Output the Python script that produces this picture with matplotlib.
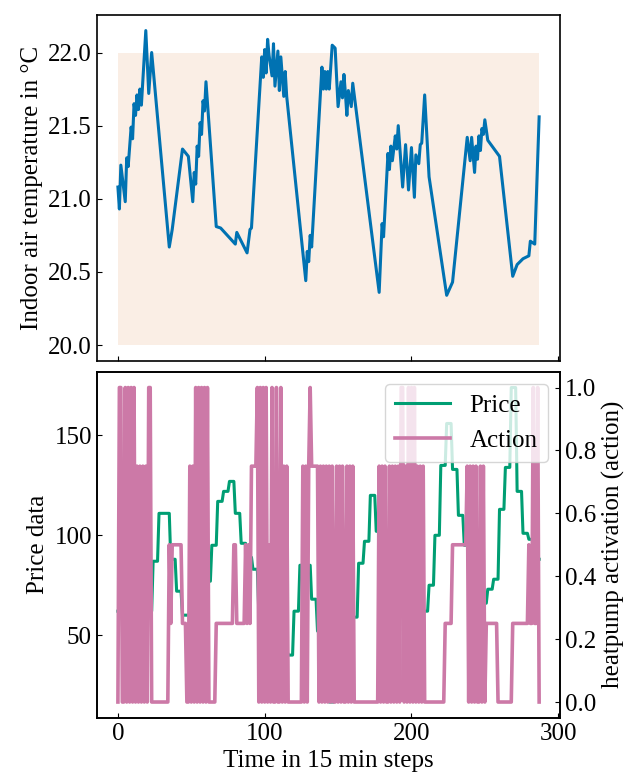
import numpy as np
import matplotlib.pyplot as plt
from matplotlib.ticker import MultipleLocator

plt.rcParams['font.family'] = ['Liberation Serif', 'DejaVu Serif']
plt.rcParams['mathtext.fontset'] = 'stix'
plt.rcParams['font.size'] = 18
plt.rcParams['xtick.direction'] = 'in'
plt.rcParams['ytick.direction'] = 'in'

# indoor temperature, vertices of the trajectory (step, degC)
temp_steps = [0, 1, 2, 5, 6, 7, 9, 10, 11, 12, 13, 14, 15, 16, 19, 21, 23, 35, 37,
              44, 48, 51, 52, 53, 54, 55, 56, 57, 58, 59, 60, 67, 70, 80, 81, 88,
              90, 91, 98, 99, 100, 101, 102, 103, 105, 106, 107, 109, 110, 111,
              113, 114, 115, 128, 129, 130, 131, 132, 139, 140, 141, 142, 143,
              144, 146, 148, 150, 152, 153, 154, 155, 156, 157, 159, 160, 178,
              180, 181, 184, 185, 186, 187, 189, 190, 191, 194, 196, 198, 200,
              202, 203, 205, 206, 207, 209, 212, 224, 228, 238, 240, 241, 243,
              244, 245, 246, 247, 248, 249, 250, 252, 260, 269, 272, 276, 280,
              281, 284, 287]
temp_values = [21.08, 20.93, 21.23, 20.98, 21.28, 21.22, 21.49, 21.41, 21.65, 21.57,
               21.71, 21.61, 21.75, 21.64, 22.15, 21.72, 22.00, 20.67, 20.79,
               21.34, 21.29, 20.98, 21.18, 21.10, 21.36, 21.29, 21.52, 21.44,
               21.67, 21.60, 21.80, 20.81, 20.80, 20.69, 20.77, 20.63, 20.79,
               20.80, 21.97, 21.83, 22.02, 21.86, 22.09, 21.98, 21.84, 22.06,
               21.77, 22.01, 21.74, 21.97, 21.70, 21.87, 21.70, 20.44, 20.64,
               20.57, 20.75, 20.67, 21.90, 21.75, 21.87, 21.75, 21.87, 21.75,
               22.05, 22.03, 21.63, 21.80, 21.69, 21.85, 21.72, 21.57, 21.74,
               21.63, 21.79, 20.36, 20.83, 20.74, 21.31, 21.20, 21.36, 21.26,
               21.43, 21.34, 21.50, 21.08, 21.37, 21.06, 21.35, 21.01, 21.30,
               21.24, 21.37, 21.38, 21.71, 21.15, 20.34, 20.43, 21.42, 21.26,
               21.42, 21.18, 21.36, 21.27, 21.43, 21.33, 21.48, 21.44, 21.54,
               21.40, 21.29, 20.47, 20.55, 20.59, 20.61, 20.71, 20.69, 21.56]

temp_low, temp_high = 20.0, 22.0

# hourly electricity price, repeated for the 15 min steps
price_hourly = [62, 62, 61, 58, 57, 62, 87, 111, 111, 88, 72, 60,
                60, 62, 68, 77, 95, 117, 122, 127, 111, 96, 89, 83,
                61, 55, 50, 46, 43, 40, 62, 85, 85, 68, 52, 30,
                16.5, 22, 35, 48, 59, 86, 97, 120, 102, 90, 83, 81,
                81, 73, 73, 73, 62, 75, 100, 135, 156, 133, 110, 95,
                77, 70, 66, 73, 78, 113, 134, 174, 122, 101, 98, 88]

# heat pump action per 15 min step
action = [
    0, 1, 1, 0, 0, 1, 0, 1, 0, 1, 0, 1, 0, .75, 0, .75, 0, .75, 0, .75, 0, 1, 1, 0,
    0, 0, 0, 0, 0, 0, 0, 0, 0, 0, 0, .5, .25, .5, .5, .5, .5, .5, .5, .5, .25, .25, .25, 0,
    0, .75, 0, .75, 0, 1, 0, 1, 0, 1, 0, 1, 0, 1, 0, 0, 0, 0, 0, .25, .25, .25, .25, .25,
    .25, .25, .25, .25, .25, .25, .25, .5, .5, .25, .25, .25, .25, .25, .25, .5, .25, .5, .25, .75, .75, .75, .75, 1,
    0, 1, 0, 1, 0, 1, 0, .5, 0, 1, 0, 0, 1, 0, 0, 1, 0, .75, 0, .75, 0, 0, 0, 0,
    0, 0, 0, 0, 0, 0, .75, 0, .75, 0, .75, 1, .75, .75, .75, .75, .75, 0, .75, 0, .75, 0, .75, 0,
    .75, 0, .75, 0, 0, .75, 0, .75, 0, .75, 0, 0, .75, 0, .75, 0, .75, 0, 0, 0, 0, 0, 0, 0,
    0, 0, 0, 0, 0, 0, 0, 0, 0, 0, .75, 0, .75, 0, .75, 0, 0, .75, 0, .75, 0, .75, 0, .75,
    0, 1, 1, 0, .75, 0, 1, 0, 1, 0, 1, 0, .75, 0, .75, 0, .75, 0, 0, 0, 0, 0, 0, 0,
    0, 0, 0, 0, 0, 0, 0, .25, .25, .25, .25, .25, .5, .5, .5, .5, .5, .5, .5, .5, .5, .5, .75, 0,
    .75, 0, .75, 0, .75, 0, 0, .75, 0, .75, 0, .25, .25, .25, .25, .25, .25, .25, .25, 0, 0, 0, 0, 0,
    0, 0, 0, 0, 0, .25, .25, .25, .25, .25, .25, .25, .25, .25, .25, .25, .5, .25, .25, 1, .25, .25, 1, 0,
]

price = np.repeat(price_hourly, 4)
steps = np.arange(len(action))

fig, (ax1, ax3) = plt.subplots(2, 1, sharex=True, figsize=(6.33, 7.81), dpi=100)
fig.subplots_adjust(left=0.153, right=0.885, top=0.981, bottom=0.081, hspace=0.032)

# temperature with comfort band
ax1.fill_between([steps[0], steps[-1]], temp_low, temp_high, color='#D55E00',
                 alpha=0.1, linewidth=0)
ax1.plot(temp_steps, temp_values, color='#0072B2', lw=2.2)
ax1.set_ylabel('Indoor air temperature in °C')
ax1.yaxis.set_major_locator(MultipleLocator(0.5))

# price and action
l1, = ax3.plot(steps, price, color='#009E73', lw=2.2, label='Price')
ax3.set_ylabel('Price data')
ax3.set_xlabel('Time in 15 min steps')
ax3.yaxis.set_major_locator(MultipleLocator(50))
ax3.xaxis.set_major_locator(MultipleLocator(100))

ax4 = ax3.twinx()
l2, = ax4.plot(steps, action, color='#CC79A7', lw=2.6, label='Action')
ax4.set_ylabel('heatpump activation (action)')
ax4.legend(handles=[l1, l2], loc='upper right', handlelength=2.2)

for ax in (ax1, ax3, ax4):
    for sp in ax.spines.values():
        sp.set_linewidth(1.2)

fig.savefig('out.png', dpi=100)
